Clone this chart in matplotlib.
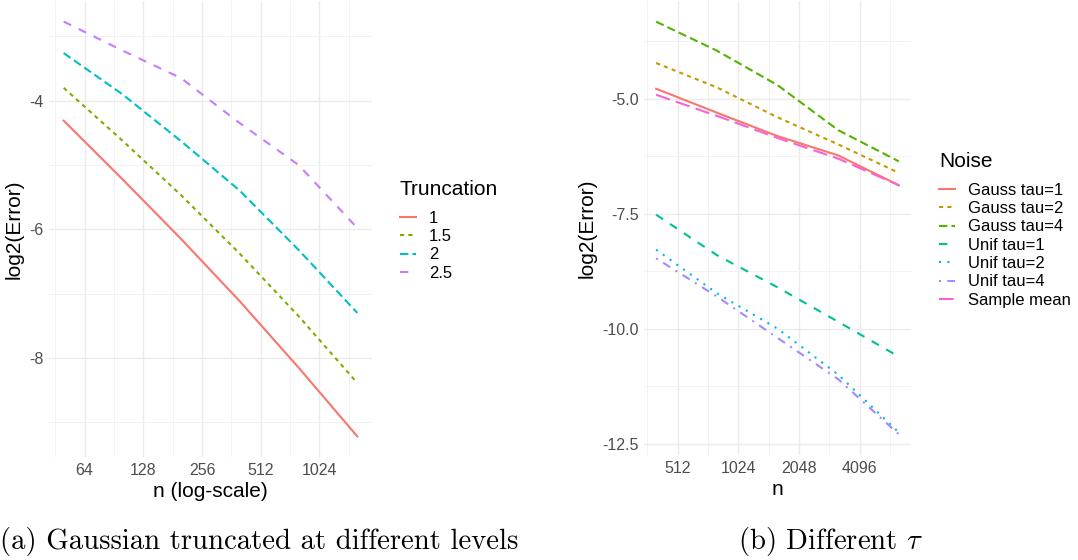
import numpy as np
import matplotlib
matplotlib.use("Agg")
import matplotlib.pyplot as plt
from matplotlib.ticker import FixedLocator, NullFormatter

# ---------------- data ----------------
n_left = [50, 100, 200, 400, 800, 1600]
trunc_labels = ["1", "1.5", "2", "2.5"]
trunc_1 = [-4.31, -5.22, -6.15, -7.12, -8.15, -9.22]
trunc_15 = [-3.80, -4.62, -5.47, -6.38, -7.35, -8.39]
trunc_2 = [-3.26, -3.90, -4.63, -5.40, -6.32, -7.30]
trunc_25 = [-2.77, -3.22, -3.65, -4.35, -5.00, -5.98]
left_xticks = [64, 128, 256, 512, 1024]
left_yticks = [-8, -6, -4]

n_right = [400, 800, 1600, 3200, 6400]
noise_labels = ["Gauss tau=1", "Gauss tau=2", "Gauss tau=4", "Unif tau=1",
                "Unif tau=2", "Unif tau=4", "Sample mean"]
gauss_tau1 = [-4.78, -5.30, -5.81, -6.23, -6.88]
gauss_tau2 = [-4.22, -4.75, -5.40, -5.99, -6.61]
gauss_tau4 = [-3.32, -3.95, -4.70, -5.68, -6.36]
unif_tau1 = [-7.52, -8.40, -9.10, -9.85, -10.61]
unif_tau2 = [-8.28, -9.23, -10.00, -11.00, -12.26]
unif_tau4 = [-8.47, -9.30, -10.20, -11.10, -12.30]
sample_mean = [-4.91, -5.37, -5.85, -6.30, -6.88]
right_xticks = [512, 1024, 2048, 4096]
right_yticks = [-12.5, -10.0, -7.5, -5.0]

# ---------------- style ----------------
col4 = ["#F8766D", "#7CAE00", "#00BFC4", "#C77CFF"]
col7 = ["#F8766D", "#C49A00", "#53B400", "#00C094", "#00B6EB", "#A58AFF", "#FB61D7"]
lt = ["-", (0, (2, 2)), (0, (4, 2)), (0, (4, 4)), (0, (1, 3)), (0, (1, 3, 4, 3)), (0, (7, 3))]

plt.rcParams["font.family"] = ["Liberation Sans", "DejaVu Sans"]
plt.rcParams["mathtext.fontset"] = "cm"

W, H = 1078, 560
fig = plt.figure(figsize=(W / 100, H / 100), dpi=100)


def fx(px):
    return px / W


def fy(py):
    return 1 - py / H


def style_axes(ax, xticks, yticks, yfmt):
    ax.set_xscale("log", base=2)
    for s in ax.spines.values():
        s.set_visible(False)
    ax.set_xticks(xticks)
    ax.set_xticklabels([str(t) for t in xticks])
    lx = np.log2(xticks)
    minors = [2 ** (v - 0.5) for v in lx] + [2 ** (lx[-1] + 0.5)]
    ax.xaxis.set_minor_locator(FixedLocator(minors))
    ax.xaxis.set_minor_formatter(NullFormatter())
    ax.set_yticks(yticks)
    ax.set_yticklabels([yfmt.format(t) for t in yticks])
    step = yticks[1] - yticks[0]
    ym = [yticks[0] - step / 2] + [t + step / 2 for t in yticks]
    ax.yaxis.set_minor_locator(FixedLocator(ym))
    ax.tick_params(which="both", length=0)
    ax.tick_params(axis="both", which="major", labelsize=11.5, labelcolor="#4D4D4D")
    ax.tick_params(axis="x", pad=4)
    ax.tick_params(axis="y", pad=4)
    ax.grid(True, which="major", color="#EBEBEB", lw=1.0)
    ax.grid(True, which="minor", color="#F2F2F2", lw=0.7)
    ax.set_axisbelow(True)


def make_legend(ax, title, anchor):
    leg = ax.legend(title=title, loc="upper left",
                    bbox_to_anchor=anchor, bbox_transform=fig.transFigure,
                    frameon=False, fontsize=12, title_fontsize=15, handlelength=0.95,
                    handletextpad=0.8, labelspacing=0.20, borderpad=0, borderaxespad=0,
                    alignment="left")
    leg._legend_box.sep = 8.5
    return leg


# ---------------- left panel ----------------
axL = fig.add_axes([fx(49), fy(457), fx(372) - fx(49), fy(1) - fy(457)])
left_series = [trunc_1, trunc_15, trunc_2, trunc_25]
for i, (ys, lab) in enumerate(zip(left_series, trunc_labels)):
    axL.plot(n_left, ys, color=col4[i], lw=1.5, linestyle=lt[i], label=lab)
axL.set_xlim(2 ** 5.394, 2 ** 10.894)
axL.set_ylim(-9.54, -2.45)
style_axes(axL, left_xticks, left_yticks, "{:d}")
axL.set_xlabel("n (log-scale)", fontsize=15, labelpad=3)
axL.set_ylabel("log2(Error)", fontsize=15, labelpad=4)
make_legend(axL, "Truncation", (fx(400), fy(180)))

# ---------------- right panel ----------------
axR = fig.add_axes([fx(644), fy(455), fx(911) - fx(644), fy(1) - fy(455)])
right_series = [gauss_tau1, gauss_tau2, gauss_tau4, unif_tau1, unif_tau2, unif_tau4, sample_mean]
for i in range(len(right_series)):
    axR.plot(n_right, right_series[i], color=col7[i], lw=1.5, linestyle=lt[i],
             label=noise_labels[i])
axR.set_xlim(2 ** 8.444, 2 ** 12.844)
axR.set_ylim(-12.75, -2.87)
style_axes(axR, right_xticks, right_yticks, "{:.1f}")
axR.set_xlabel("n", fontsize=15, labelpad=3)
axR.set_ylabel("log2(Error)", fontsize=15, labelpad=4)
make_legend(axR, "Noise", (fx(939), fy(152)))

# ---------------- captions ----------------
fig.text(fx(0), fy(541), "(a) Gaussian truncated at different levels",
         family="cmr10", fontsize=20.7, va="center", ha="left")
fig.text(fx(738), fy(541), r"(b) Different $\tau$",
         family="cmr10", fontsize=20.7, va="center", ha="left")

fig.savefig("out.png", dpi=100)
